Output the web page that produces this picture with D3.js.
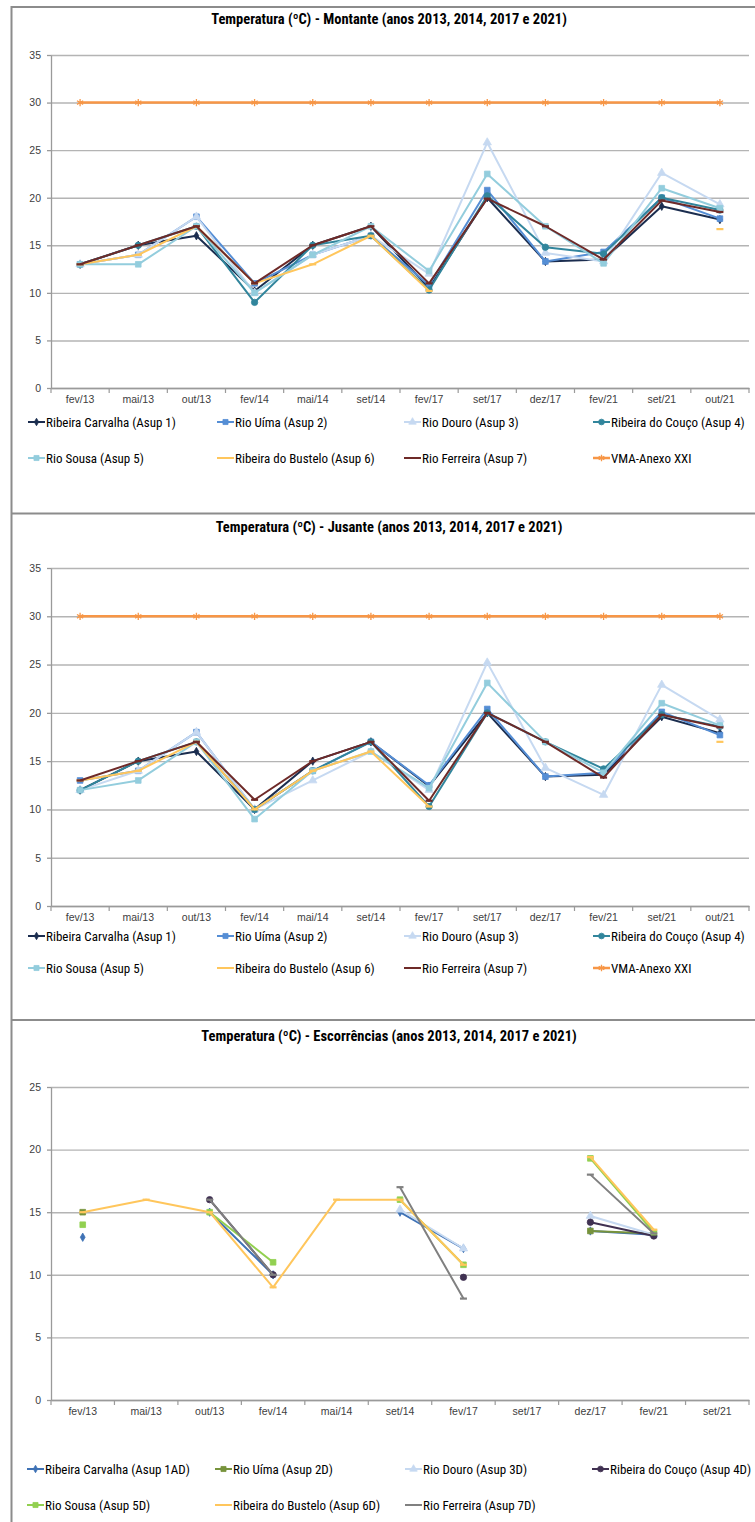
<!DOCTYPE html>
<html>
<head>
<meta charset="utf-8">
<script src="https://cdn.jsdelivr.net/npm/d3@7"></script>
<style>
  body { margin: 0; background: #fff; }
  svg { display: block; font-family: 'Liberation Sans Narrow', 'Arial Narrow', 'Roboto Condensed', 'Liberation Sans', sans-serif; }
  .chart-title { font-weight: bold; font-size: 14.5px; fill: #000; text-anchor: middle; }
  .tick text { font-size: 10.5px; fill: #404040; }
  .legend-text { font-size: 13px; fill: #000; }
</style>
</head>
<body>
<svg id="fig" width="755" height="1522"></svg>
<script>
// categories
const catsMain = ['fev/13', 'mai/13', 'out/13', 'fev/14', 'mai/14', 'set/14', 'fev/17', 'set/17', 'dez/17', 'fev/21', 'set/21', 'out/21'];
const catsEsc = ['fev/13', 'mai/13', 'out/13', 'fev/14', 'mai/14', 'set/14', 'fev/17', 'set/17', 'dez/17', 'fev/21', 'set/21'];

// tick labels
const ticksMain = [0, 5, 10, 15, 20, 25, 30, 35];
const ticksEsc = [0, 5, 10, 15, 20, 25];

// Montante
const montCarvalha = [13, 15, 16, 10.2, 15, 17, 10.5, 20, 13.3, 13.5, 19.1, 17.7];
const montUima = [13, 14, 18, 11, 14, 16, 10.8, 20.8, 13.3, 14.3, 20, 17.8];
const montDouro = [13, 14, 18, 10, 14, 16, 12, 25.8, 14.2, 13.3, 22.6, 19.3];
const montCouco = [13, 15, 17, 9, 15, 16, 10.3, 20.2, 14.8, 14.1, 20, 18.7];
const montSousa = [13, 13, 17, 10, 14, 17, 12.3, 22.5, 17, 13.1, 21, 18.9];
const montBustelo = [13, 14, 17, 11, 13, 16, 10.2, null, null, null, null, 16.7];
const montFerreira = [13, 15, 17, 11, 15, 17, 11, 19.9, 17, 13.5, 19.7, 18.5];
const vmaAnexo = [30, 30, 30, 30, 30, 30, 30, 30, 30, 30, 30, 30];

// Jusante
const jusCarvalha = [12, 15, 16, 10, 15, 17, 12.4, 20, 13.4, 13.6, 19.6, 17.9];
const jusUima = [13, 14, 18, 10, 14, 17, 12.5, 20.4, 13.4, 13.8, 20.1, 17.7];
const jusDouro = [12, 14, 18, 10, 13, 16, 12, 25.2, 14.3, 11.5, 22.9, 19.3];
const jusCouco = [12, 15, 17, 10, 14, 17, 10.3, 20, 17, 14.2, 19.8, 18.6];
const jusSousa = [12, 13, 17, 9, 14, 16, 12.2, 23.1, 17, 13.8, 21, 18.7];
const jusBustelo = [13, 14, 17, 10, 14, 16, 10.3, null, null, null, null, 17];
const jusFerreira = [13, 15, 17, 11, 15, 17, 10.9, 20, 17, 13.3, 19.8, 18.5];

// Escorrências
const escCarvalha = [13, null, 15, 10, null, 15, 12.1, null, 13.5, 13.2, null];
const escUima = [15, null, null, null, null, null, null, null, 13.5, 13.3, null];
const escDouro = [null, null, null, null, null, 15.2, 12.1, null, 14.7, 13.2, null];
const escCouco = [null, null, 16, 10, null, null, 9.8, null, 14.2, 13.1, null];
const escSousa = [14, null, 15, 11, null, 16, 10.8, null, 19.3, 13.4, null];
const escBustelo = [15, 16, 15, 9, 16, 16, 10.8, null, 19.4, 13.6, null];
const escFerreira = [null, null, 16, 10, null, 17, 8.1, null, 18, 13.3, null];

const mainNames = ['Ribeira Carvalha (Asup 1)', 'Rio Uíma (Asup 2)', 'Rio Douro (Asup 3)', 'Ribeira do Couço (Asup 4)',
  'Rio Sousa (Asup 5)', 'Ribeira do Bustelo (Asup 6)', 'Rio Ferreira (Asup 7)', 'VMA-Anexo XXI'];
const escNames = ['Ribeira Carvalha (Asup 1AD)', 'Rio Uíma (Asup 2D)', 'Rio Douro (Asup 3D)', 'Ribeira do Couço (Asup 4D)',
  'Rio Sousa (Asup 5D)', 'Ribeira do Bustelo (Asup 6D)', 'Rio Ferreira (Asup 7D)'];

// styles per series: colour + marker
const mainStyles = [
  { color: '#1b2d4f', marker: 'diamond' },
  { color: '#558ed5', marker: 'square' },
  { color: '#c6d9f1', marker: 'triangle' },
  { color: '#31859c', marker: 'circle' },
  { color: '#93cddd', marker: 'square' },
  { color: '#ffc65c', marker: 'dash' },
  { color: '#6e2a28', marker: 'dash' },
  { color: '#f79646', marker: 'star', width: 2.5 }
];
const escStyles = [
  { color: '#3f72b5', marker: 'diamond' },
  { color: '#77933c', marker: 'square' },
  { color: '#c6d9f1', marker: 'triangle' },
  { color: '#403152', marker: 'circle' },
  { color: '#92d050', marker: 'square' },
  { color: '#ffc65c', marker: 'dash' },
  { color: '#808080', marker: 'dash' }
];

class LineChart {
  constructor(_config) {
    this.config = _config;
    this.initVis();
  }

  initVis() {
    let vis = this;
    const c = vis.config;
    vis.svg = d3.select('#fig');

    vis.xScale = d3.scaleBand().domain(c.categories).range([c.left, c.right]).padding(0);
    vis.yScale = d3.scaleLinear().domain([0, c.yMax]).range([c.bottom, c.top]);

    vis.g = vis.svg.append('g');

    // title
    vis.g.append('text')
      .attr('class', 'chart-title')
      .attr('x', c.titleX)
      .attr('y', c.titleY)
      .attr('dy', '0.35em')
      .text(c.title);

    // gridlines + y labels
    const yAxis = d3.axisLeft(vis.yScale)
      .tickValues(c.ticks)
      .tickSize(-(c.right - c.left))
      .tickSizeOuter(0)
      .tickPadding(11);
    const yG = vis.g.append('g')
      .attr('transform', `translate(${c.left},0)`)
      .call(yAxis);
    yG.select('.domain').remove();
    yG.selectAll('.tick line').attr('stroke', '#b4b4b4').attr('stroke-width', 1.4);
    yG.selectAll('.tick text').attr('x', -10);

    // y axis line and small outer ticks
    const yTickG = vis.g.append('g')
      .attr('transform', `translate(${c.left},0)`)
      .call(d3.axisLeft(vis.yScale).tickValues(c.ticks).tickSize(4).tickSizeOuter(0).tickFormat(''));
    yTickG.selectAll('path, line').attr('stroke', '#9a9a9a').attr('stroke-width', 1.3);

    // x axis labels
    const xG = vis.g.append('g')
      .attr('transform', `translate(0,${c.bottom})`)
      .call(d3.axisBottom(vis.xScale).tickSize(0).tickPadding(8));
    xG.select('.domain').attr('stroke', '#9a9a9a').attr('stroke-width', 1.3);

    // tick marks at category boundaries
    const bounds = c.categories.map(d => vis.xScale(d)).concat([c.right]);
    vis.g.append('g').selectAll('line')
      .data(bounds)
      .join('line')
      .attr('x1', d => d).attr('x2', d => d)
      .attr('y1', c.bottom).attr('y2', c.bottom + 5)
      .attr('stroke', '#9a9a9a').attr('stroke-width', 1.2);

    vis.renderVis();
    vis.renderLegend();
  }

  xPos(i) {
    const c = this.config;
    return this.xScale(c.categories[i]) + this.xScale.bandwidth() / 2;
  }

  drawMarker(sel, style, x, y, size) {
    const s = size || 1;
    const m = style.marker;
    if (m === 'dash') {
      sel.append('line')
        .attr('x1', x - 3.5 * s).attr('x2', x + 3.5 * s)
        .attr('y1', y).attr('y2', y)
        .attr('stroke', style.color).attr('stroke-width', 2.2);
      return;
    }
    const types = {
      diamond: d3.symbolDiamond, square: d3.symbolSquare, triangle: d3.symbolTriangle,
      circle: d3.symbolCircle, star: d3.symbolAsterisk
    };
    const areas = { diamond: 20, square: 32, triangle: 30, circle: 32, star: 36 };
    const p = sel.append('path')
      .attr('d', d3.symbol().type(types[m]).size(areas[m] * s * s)())
      .attr('transform', `translate(${x},${y})`);
    if (m === 'star') {
      p.attr('fill', 'none').attr('stroke', style.color).attr('stroke-width', 1.3);
    } else {
      p.attr('fill', style.color).attr('stroke', style.color).attr('stroke-width', 0.8);
    }
  }

  renderVis() {
    let vis = this;
    const c = vis.config;
    const line = d3.line()
      .defined(d => d.v != null)
      .x(d => vis.xPos(d.i))
      .y(d => vis.yScale(d.v));

    c.series.forEach((values, k) => {
      const style = c.styles[k];
      const pts = values.map((v, i) => ({ v, i }));
      const sg = vis.g.append('g');
      sg.append('path')
        .datum(pts)
        .attr('d', line)
        .attr('fill', 'none')
        .attr('stroke', style.color)
        .attr('stroke-width', style.width || 2)
        .attr('stroke-linejoin', 'round');
      pts.filter(d => d.v != null).forEach(d => {
        vis.drawMarker(sg, style, vis.xPos(d.i), vis.yScale(d.v));
      });
    });
  }

  renderLegend() {
    let vis = this;
    const c = vis.config;
    c.names.forEach((name, k) => {
      const row = Math.floor(k / 4), col = k % 4;
      const x0 = c.legendX[col], y0 = c.legendY[row];
      const style = c.styles[k];
      const lg = vis.g.append('g');
      lg.append('line')
        .attr('x1', x0).attr('x2', x0 + 17)
        .attr('y1', y0).attr('y2', y0)
        .attr('stroke', style.color).attr('stroke-width', style.width || 2);
      if (style.marker !== 'dash') vis.drawMarker(lg, style, x0 + 8.5, y0, 0.9);
      lg.append('text')
        .attr('class', 'legend-text')
        .attr('x', x0 + 18)
        .attr('y', y0)
        .attr('dy', '0.35em')
        .text(name);
    });
  }
}

// frame lines
const svg = d3.select('#fig');
const frame = svg.append('g').attr('stroke', '#8c8c8c').attr('stroke-width', 2);
frame.append('line').attr('x1', 11.5).attr('x2', 11.5).attr('y1', 6).attr('y2', 1522);
[7, 513.5, 1020].forEach(y => {
  frame.append('line').attr('x1', 11.5).attr('x2', 755).attr('y1', y).attr('y2', y);
});

new LineChart({
  title: 'Temperatura (ºC) - Montante (anos 2013, 2014, 2017 e 2021)',
  titleX: 389, titleY: 19,
  categories: catsMain, ticks: ticksMain, yMax: 35,
  left: 51, right: 749, top: 55, bottom: 388,
  series: [montCarvalha, montUima, montDouro, montCouco, montSousa, montBustelo, montFerreira, vmaAnexo],
  names: mainNames, styles: mainStyles,
  legendX: [28, 217, 404, 593], legendY: [422, 458]
});

new LineChart({
  title: 'Temperatura (ºC) - Jusante (anos 2013, 2014, 2017 e 2021)',
  titleX: 389, titleY: 527,
  categories: catsMain, ticks: ticksMain, yMax: 35,
  left: 51, right: 749, top: 568, bottom: 906,
  series: [jusCarvalha, jusUima, jusDouro, jusCouco, jusSousa, jusBustelo, jusFerreira, vmaAnexo],
  names: mainNames, styles: mainStyles,
  legendX: [28, 217, 404, 593], legendY: [936, 968]
});

new LineChart({
  title: 'Temperatura (ºC) - Escorrências (anos 2013, 2014, 2017 e 2021)',
  titleX: 389, titleY: 1036,
  categories: catsEsc, ticks: ticksEsc, yMax: 25,
  left: 51, right: 749, top: 1087, bottom: 1400,
  series: [escCarvalha, escUima, escDouro, escCouco, escSousa, escBustelo, escFerreira],
  names: escNames, styles: escStyles,
  legendX: [27, 215, 405, 592], legendY: [1469, 1505]
});
</script>
</body>
</html>
